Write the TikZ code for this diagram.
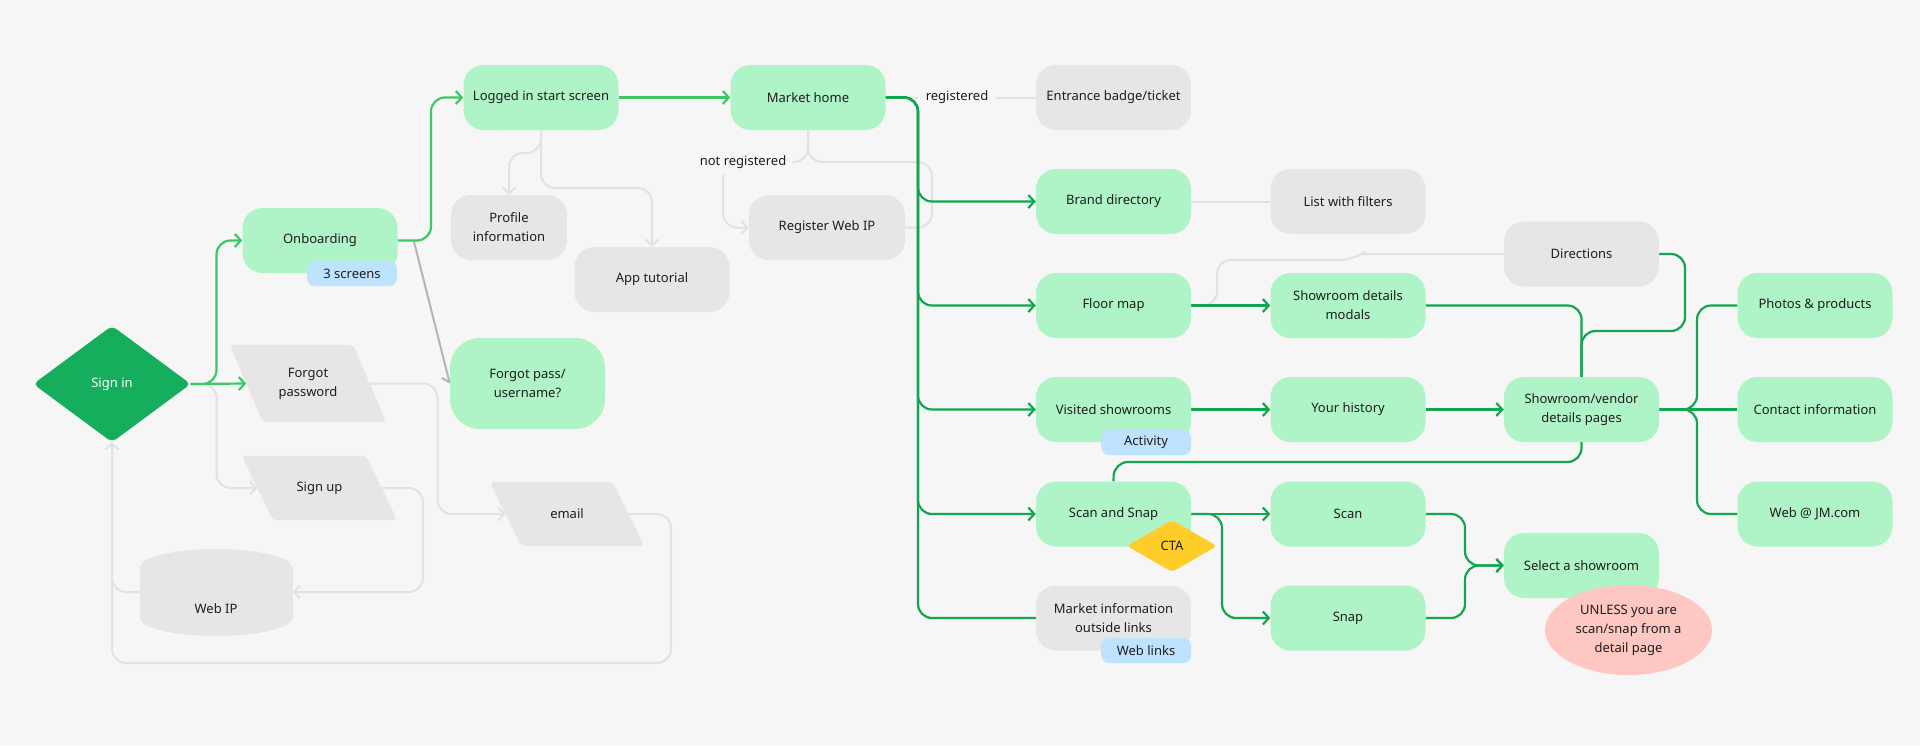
\documentclass[tikz,border=0pt]{standalone}
\usepackage{fontspec}
\setmainfont{Noto Sans}
\usetikzlibrary{arrows.meta,shapes.geometric}
\definecolor{bgc}{HTML}{F6F6F6}
\definecolor{mint}{HTML}{AFF4C6}
\definecolor{gbox}{HTML}{E6E6E6}
\definecolor{signg}{HTML}{14AE5C}
\definecolor{dgreen}{HTML}{14A550}
\definecolor{lgreen}{HTML}{3CC864}
\definecolor{tagblue}{HTML}{BDE3FF}
\definecolor{ctay}{HTML}{FFCD29}
\definecolor{pinkc}{HTML}{FFC7C2}
\definecolor{gline}{HTML}{E2E2E2}
\definecolor{dline}{HTML}{B5B5B5}
\definecolor{txt}{HTML}{1E1E1E}
\pgfdeclarelayer{bg}
\pgfdeclarelayer{lines}
\pgfdeclarelayer{shp}
\pgfsetlayers{bg,lines,shp,main}
\tikzset{
  base/.style={font=\fontsize{13}{19}\selectfont, text=txt, align=center, inner sep=0pt},
  gbx/.style={base, rectangle, rounded corners=20pt, minimum width=155pt, minimum height=65pt, fill=mint},
  gyx/.style={gbx, fill=gbox},
  tagb/.style={base, rectangle, rounded corners=8pt, fill=tagblue, minimum width=90pt, minimum height=25pt},
  plain/.style={base, rectangle, minimum height=64pt},
  lbl/.style={base, inner sep=6pt},
  gl/.style={draw=dgreen, line width=2.2pt, rounded corners=14pt},
  lgl/.style={draw=lgreen, line width=2.2pt, rounded corners=14pt},
  grl/.style={draw=gline, line width=2pt, rounded corners=14pt},
  arr/.style={-{Straight Barb[length=6pt,width=13pt]}},
}
\begin{document}
\begin{tikzpicture}[x=1pt,y=-1pt]
\begin{pgfonlayer}{bg}
\fill[bgc] (0,0) rectangle (1920,745);
\end{pgfonlayer}
\useasboundingbox (0,0) rectangle (1920,745);

% ---------- nodes ----------
\node[base, minimum width=157pt, minimum height=116pt, text=white] (si) at (112,384) {Sign in};
\node[gbx] (ob) at (320,240.5) {Onboarding};
\node[tagb] (tag3) at (352,273.5) {3 screens};
\node[gbx] (ls) at (541,97.5) {Logged in start screen};
\node[gbx] (mh) at (808,97.5) {Market home};
\node[gyx, minimum width=116pt] (pi) at (509,227.5) {Profile\\information};
\node[gyx] (at) at (652,279.5) {App tutorial};
\node[gyx, minimum width=156pt] (rw) at (827,227.5) {Register Web IP};
\node[lbl] (nr) at (743,162) {not registered};
\node[gyx] (eb) at (1113.5,97.5) {Entrance badge/ticket};
\node[lbl, inner sep=8pt] (rg) at (957,97.5) {registered};
\node[gbx] (bd) at (1113.5,201.5) {Brand directory};
\node[gyx] (lf) at (1348,201.5) {List with filters};
\node[gbx] (fm) at (1113.5,305.5) {Floor map};
\node[gbx] (sd) at (1348,305.5) {Showroom details\\modals};
\node[gyx] (di) at (1581.5,254) {Directions};
\node[gbx] (vs) at (1113.5,409.5) {Visited showrooms};
\node[tagb] (act) at (1146,442.5) {Activity};
\node[gbx] (yh) at (1348,409.5) {Your history};
\node[gbx] (sv) at (1581.5,409.5) {Showroom/vendor\\details pages};
\node[gbx] (ss) at (1113.5,514) {Scan and Snap};
\node[base, diamond, aspect=1.73, fill=ctay, rounded corners=4pt, minimum width=90pt, minimum height=52pt] (cta) at (1172,546) {CTA};
\node[gbx] (sc) at (1348,514) {Scan};
\node[gbx] (sn) at (1348,618) {Snap};
\node[gyx] (mi) at (1113.5,618) {Market information\\outside links};
\node[tagb] (wl) at (1146,650.5) {Web links};
\node[gbx] (sel) at (1581.5,565.5) {Select a showroom};
\node[base, ellipse, fill=pinkc, minimum width=167pt, minimum height=90pt] (un) at (1628.5,630) {UNLESS you are\\scan/snap from a\\detail page};
\node[gbx] (ph) at (1815,305.5) {Photos \& products};
\node[gbx] (ci) at (1815,409.5) {Contact information};
\node[gbx] (wb) at (1815,514) {Web @ JM.com};
\node[plain, minimum width=123pt, minimum height=77pt] (fp) at (308,383.5) {Forgot\\password};
\node[plain, minimum width=124pt] (su) at (319.5,488) {Sign up};
\node[plain, minimum width=122.5pt] (em) at (567,514) {email};
\node[gbx, minimum height=91pt, rounded corners=30pt] (fpu) at (527.5,383.5) {Forgot pass/\\username?};
\node[base, minimum width=153pt, minimum height=88pt] (wi) at (216,592) {\raisebox{-21pt}[0pt][0pt]{Web IP}};

% ---------- drawn shapes ----------
\begin{pgfonlayer}{shp}
\fill[signg, rounded corners=5pt] (si.north) -- (si.east) -- (si.south) -- (si.west) -- cycle;
\foreach \n/\sh in {fp/16.5, su/15.5, em/16} {
  \fill[gbox, rounded corners=4pt] ([xshift=-\sh pt]\n.north west) -- ([xshift=-\sh pt]\n.north east)
     -- ([xshift=\sh pt]\n.south east) -- ([xshift=\sh pt]\n.south west) -- cycle;
}
\fill[gbox] (139.5,566.5) rectangle (292.5,617.5);
\fill[gbox] (216,617.5) ellipse[x radius=76.5, y radius=18.5];
\fill[gbox] (216,566.5) ellipse[x radius=76.5, y radius=18.5];
\draw[white!60!gbox, line width=2pt] (139.5,566.5) arc[start angle=180, end angle=360, x radius=76.5, y radius=18.5];
\end{pgfonlayer}

% ---------- connectors ----------
\begin{pgfonlayer}{lines}
% gray
\draw[grl] (mh.east) -- (rg.west);
\draw[grl] (rg.east) -- (eb.west);
\draw[grl] (bd.east) -- (lf.west);
\draw[grl] (fm.east) -- (1217,305.5) -- (1217,260) -- (1354,260) [sharp corners] -- (1362,254) [rounded corners=14pt] -- (di.west);
\draw[grl] (mh.south) |- (nr.east);
\draw[grl, arr] ([xshift=-20pt]nr.south) |- (rw.west);
\draw[grl] (rw.east) -| (932,162) -| (mh.south);
\draw[grl, arr] (ls.south) -- (541,153) -| (pi.north);
\draw[grl, arr] (ls.south) -- (541,188) -| (at.north);
\draw[grl, arr] (si.east) -- (216.5,384) |- (su.west);
\draw[grl, arr] (fp.east) -- (437.5,383.5) |- (em.west);
\draw[grl, arr] (su.east) -- (423,488) |- (wi.east);
\draw[grl, arr] (em.east) -| (671,663) -| (si.south);
\draw[grl] (wi.west) -| (si.south);
\draw[draw=dline, line width=2pt, arr] ([xshift=16pt]ob.east) -- (fpu.west);
% light green (left part)
\draw[lgl, arr] (si.east) -- (fp.west);
\draw[lgl, arr] (si.east) -- (216.5,384) |- (ob.west);
\draw[lgl, arr] (ob.east) -- (431,240.5) |- (ls.west);
\draw[lgl, arr] (ls.east) -- (mh.west);
% dark green trunk
\draw[gl, arr] (mh.east) -- (918,97.5) |- (bd.west);
\draw[gl, arr] (mh.east) -- (918,97.5) |- (fm.west);
\draw[gl, arr] (mh.east) -- (918,97.5) |- (vs.west);
\draw[gl, arr] (mh.east) -- (918,97.5) |- (ss.west);
\draw[gl] (mh.east) -- (918,97.5) |- (mi.west);
\draw[gl, arr] (fm.east) -- (sd.west);
\draw[gl, arr] (vs.east) -- (yh.west);
\draw[gl, arr] (yh.east) -- (sv.west);
\draw[gl, arr] (ss.east) -- (sc.west);
\draw[gl, arr] (ss.east) -- (1222,514) |- (sn.west);
\draw[gl] (sd.east) -| (sv.north);
\draw[gl] (di.east) -- (1685,254) |- (1581.5,331) -- (sv.north);
\draw[gl] (sv.south) |- (1114,462) -- (ss.north);
\draw[gl] (sv.east) -- (1697,409.5) |- (ph.west);
\draw[gl] (sv.east) -- (ci.west);
\draw[gl] (sv.east) -- (1697,409.5) |- (wb.west);
\draw[gl, arr] (sc.east) -- (1465,514) |- (sel.west);
\draw[gl, arr] (sn.east) -- (1465,618) |- (sel.west);
\end{pgfonlayer}
\end{tikzpicture}
\end{document}
